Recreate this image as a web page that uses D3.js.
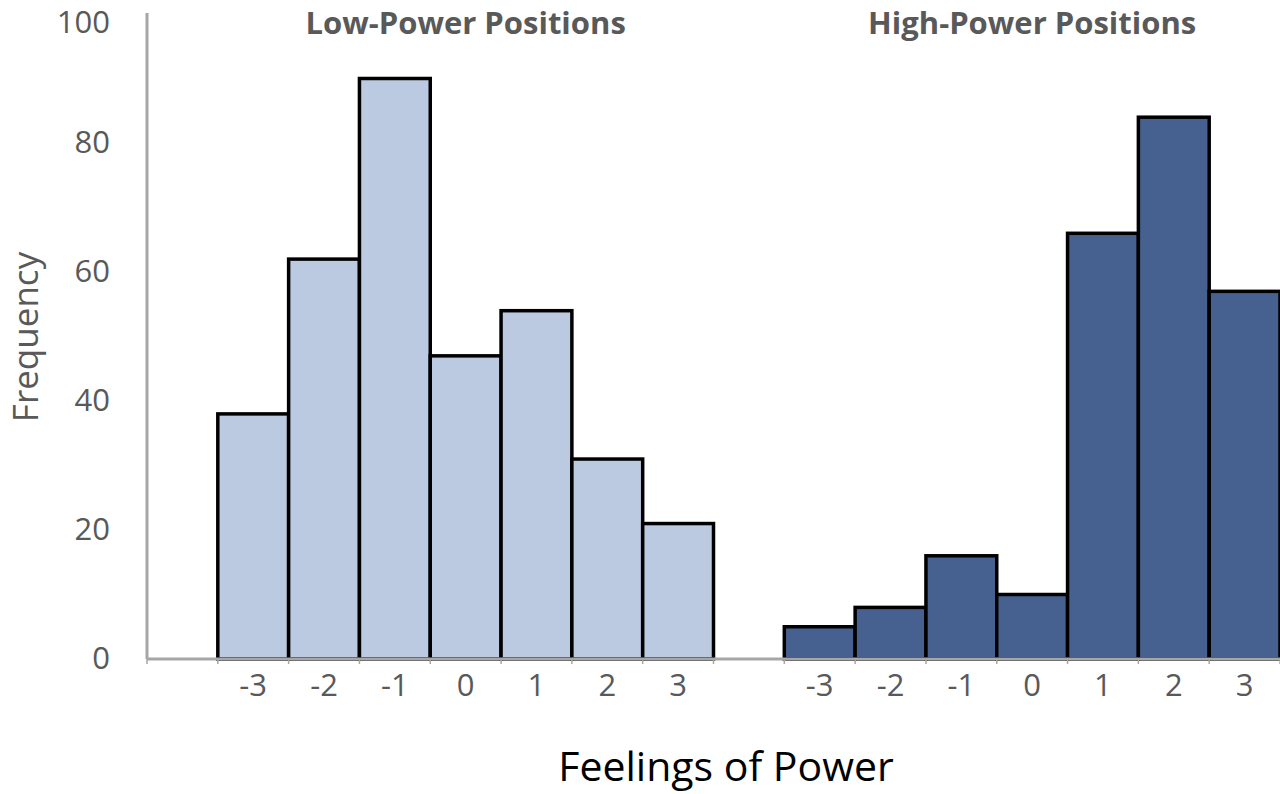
<!DOCTYPE html>
<html>
<head>
<meta charset="utf-8">
<script src="https://cdn.jsdelivr.net/npm/d3@7"></script>
<style>
  body { margin: 0; background: #fff; }
  text { font-family: "Open Sans", sans-serif; }
</style>
</head>
<body>
<div id="chart"></div>
<script>
// data
var categories = ["-3", "-2", "-1", "0", "1", "2", "3"];
var groups = ["Low-Power Positions", "High-Power Positions"];
var lowPower = [38, 62, 90, 47, 54, 31, 21];
var highPower = [5, 8, 16, 10, 66, 84, 57];
var yTicks = [0, 20, 40, 60, 80, 100];

var width = 1280, height = 794;
var margin = { top: 14, right: 0, bottom: 135, left: 147 };

var svg = d3.select("#chart")
  .append("svg")
  .attr("width", width)
  .attr("height", height);

// one empty slot in front of each group
var slots = [];
groups.forEach(function(g, gi) {
  slots.push("gap" + gi);
  categories.forEach(function(c) { slots.push(gi + "|" + c); });
});

var x = d3.scaleBand()
  .domain(slots)
  .range([margin.left, width - margin.right])
  .padding(0);

var y = d3.scaleLinear()
  .domain([0, 100])
  .range([height - margin.bottom, margin.top]);

var bars = [];
categories.forEach(function(c, i) {
  bars.push({ group: 0, cat: c, value: lowPower[i] });
});
categories.forEach(function(c, i) {
  bars.push({ group: 1, cat: c, value: highPower[i] });
});

var colors = ["#bccae1", "#46608f"];

// bars
svg.selectAll(".bar")
  .data(bars)
  .enter()
  .append("rect")
  .attr("class", "bar")
  .attr("x", function(d) { return x(d.group + "|" + d.cat); })
  .attr("y", function(d) { return y(d.value); })
  .attr("width", x.bandwidth())
  .attr("height", function(d) { return y(0) - y(d.value); })
  .attr("fill", function(d) { return colors[d.group]; })
  .attr("stroke", "#000")
  .attr("stroke-width", 3.5);

// y axis (line + labels only)
var yAxis = svg.append("g")
  .attr("transform", "translate(" + margin.left + ",0)")
  .call(d3.axisLeft(y).tickValues(yTicks).tickSize(0).tickPadding(37));
yAxis.select(".domain")
  .attr("stroke", "#a6a6a6")
  .attr("stroke-width", 3)
  .attr("d", "M0," + (margin.top - 1) + "V" + y(0));
yAxis.selectAll("text")
  .style("font-family", "Open Sans")
  .style("font-size", "31px")
  .attr("fill", "#595959");
// keep the top label inside the picture
yAxis.selectAll(".tick")
  .filter(function(d) { return d === 100; })
  .select("text")
  .attr("dy", "0.6em");

// x axis line with small ticks at slot edges
var edges = slots.map(function(s) { return x(s); }).concat([x.range()[1]]);
var xAxis = svg.append("g");
xAxis.selectAll(".tick-mark")
  .data(edges)
  .enter()
  .append("line")
  .attr("x1", function(d) { return d; })
  .attr("x2", function(d) { return d; })
  .attr("y1", y(0))
  .attr("y2", y(0) + 5)
  .attr("stroke", "#a6a6a6")
  .attr("stroke-width", 1.5);
xAxis.append("line")
  .attr("x1", margin.left)
  .attr("x2", width)
  .attr("y1", y(0))
  .attr("y2", y(0))
  .attr("stroke", "#a6a6a6")
  .attr("stroke-width", 3);

// category labels
xAxis.selectAll(".cat-label")
  .data(bars)
  .enter()
  .append("text")
  .attr("class", "cat-label")
  .attr("x", function(d) { return x(d.group + "|" + d.cat) + x.bandwidth() / 2; })
  .attr("y", y(0) + 37)
  .attr("text-anchor", "middle")
  .attr("fill", "#595959")
  .style("font-size", "31px")
  .text(function(d) { return d.cat; });

// group titles over the middle bar of each group
svg.selectAll(".group-title")
  .data(groups)
  .enter()
  .append("text")
  .attr("class", "group-title")
  .attr("x", function(d, i) { return x(i + "|0") + x.bandwidth() / 2; })
  .attr("y", 34)
  .attr("text-anchor", "middle")
  .attr("fill", "#595959")
  .style("font-size", "31px")
  .style("font-weight", "bold")
  .text(function(d) { return d; });

// axis titles
svg.append("text")
  .attr("x", 726)
  .attr("y", 781)
  .attr("text-anchor", "middle")
  .attr("fill", "#000")
  .style("font-size", "41px")
  .text("Feelings of Power");

svg.append("text")
  .attr("transform", "translate(38," + 337 + ") rotate(-90)")
  .attr("text-anchor", "middle")
  .attr("fill", "#595959")
  .style("font-size", "35px")
  .text("Frequency");
</script>
</body>
</html>
